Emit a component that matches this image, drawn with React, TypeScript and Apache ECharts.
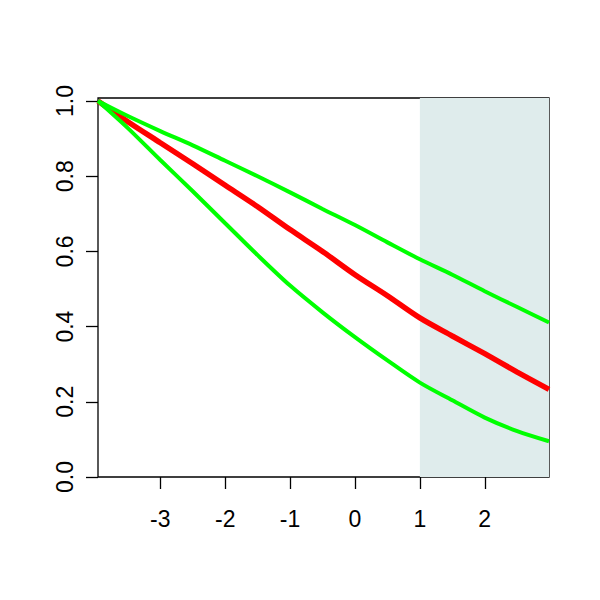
import React, { useEffect, useRef } from "react";
import * as echarts from "echarts";

const xValues = [-3.96, -3.5, -3, -2.5, -2, -1.5, -1, -0.5, 0, 0.5, 1, 1.5, 2, 2.5, 2.99];
const centralCurve = [1.0, 0.945, 0.889, 0.833, 0.776, 0.719, 0.658, 0.6, 0.538, 0.482, 0.423, 0.375, 0.328, 0.279, 0.233];
const upperCurve = [1.0, 0.96, 0.92, 0.882, 0.841, 0.8, 0.757, 0.713, 0.67, 0.624, 0.579, 0.538, 0.494, 0.452, 0.411];
const lowerCurve = [1.0, 0.928, 0.843, 0.76, 0.675, 0.59, 0.509, 0.438, 0.372, 0.31, 0.251, 0.204, 0.158, 0.122, 0.095];
const xTicks = [-3, -2, -1, 0, 1, 2];
const yTicks = [0, 0.2, 0.4, 0.6, 0.8, 1.0];
const shadeRange = [1, 2.99];

const pairs = (ys: number[]) => xValues.map((x, i) => [x, ys[i]]);

export default function App() {
  const ref = useRef<HTMLDivElement>(null);
  useEffect(() => {
    if (!ref.current) return;
    const chart = echarts.init(ref.current, undefined, { renderer: "svg" });
    const font = "Liberation Sans";
    const labelStyle = { fontSize: 23, fontFamily: font, color: "#000" };
    chart.setOption({
      animation: false,
      backgroundColor: "#ffffff",
      textStyle: { fontFamily: font, fontSize: 23, color: "#000" },
      grid: {
        left: 98,
        top: 98,
        right: 51,
        bottom: 123,
        show: true,
        borderColor: "#000000",
        borderWidth: 1.3,
        backgroundColor: "transparent",
      },
      xAxis: {
        type: "value",
        min: xValues[0],
        max: xValues[xValues.length - 1],
        axisLine: { show: false, onZero: false },
        splitLine: { show: false },
        axisTick: {
          show: true,
          length: 12,
          customValues: xTicks,
          lineStyle: { color: "#000", width: 1.3 },
        },
        axisLabel: {
          customValues: xTicks,
          margin: 30,
          ...labelStyle,
        },
      },
      yAxis: {
        type: "value",
        min: 0,
        max: 1.008,
        axisLine: { show: false, onZero: false },
        splitLine: { show: false },
        axisTick: {
          show: true,
          length: 12,
          customValues: yTicks,
          lineStyle: { color: "#000", width: 1.3 },
        },
        axisLabel: {
          customValues: yTicks,
          rotate: 90,
          margin: 22,
          ...labelStyle,
          formatter: (v: number) => v.toFixed(1),
        },
      },
      series: [
        {
          type: "line",
          data: [],
          z: 1,
          silent: true,
          markArea: {
            silent: true,
            itemStyle: { color: "#DFECEC" },
            data: [[{ xAxis: shadeRange[0] }, { xAxis: shadeRange[1] }]],
          },
        },
        {
          type: "line",
          data: pairs(centralCurve),
          showSymbol: false,
          smooth: 0.3,
          z: 3,
          lineStyle: { color: "#FF0000", width: 5.5 },
        },
        {
          type: "line",
          data: pairs(upperCurve),
          showSymbol: false,
          smooth: 0.3,
          z: 4,
          lineStyle: { color: "#00FF00", width: 4 },
        },
        {
          type: "line",
          data: pairs(lowerCurve),
          showSymbol: false,
          smooth: 0.3,
          z: 4,
          lineStyle: { color: "#00FF00", width: 4 },
        },
      ],
    });
    return () => chart.dispose();
  }, []);
  return (
    <div
      ref={ref}
      style={{ position: "fixed", left: 0, top: 0, width: 600, height: 600 }}
    />
  );
}
